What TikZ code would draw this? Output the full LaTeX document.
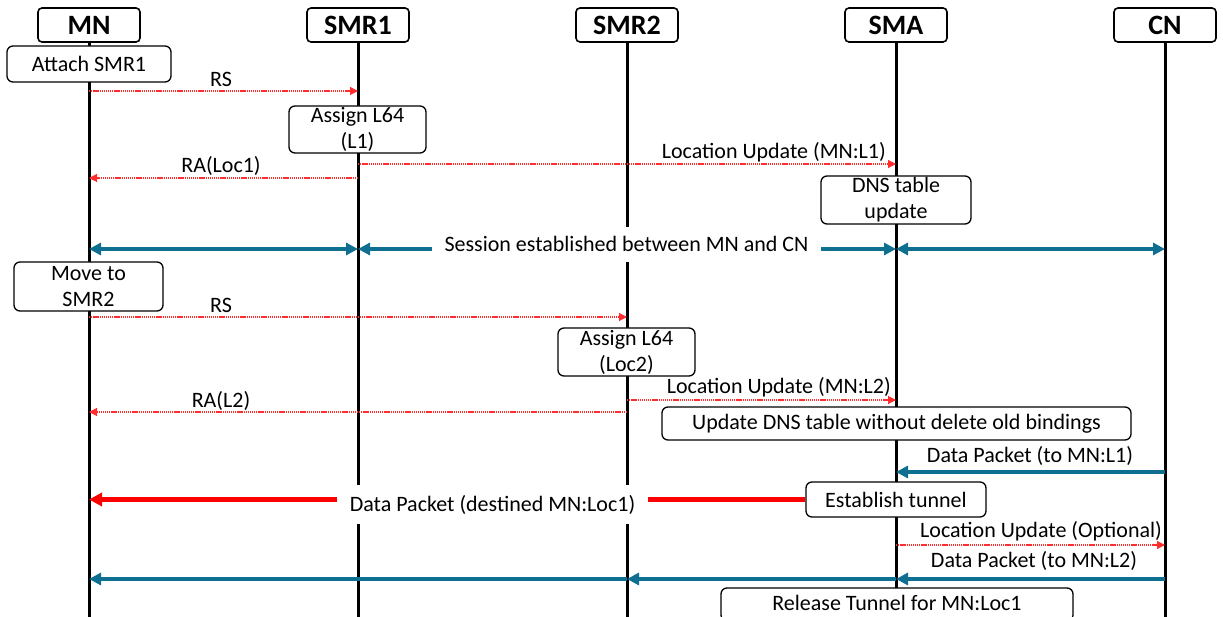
\documentclass[tikz,border=0pt]{standalone}
\usepackage{fontspec}
\setmainfont{Carlito}
\usetikzlibrary{arrows.meta}
\definecolor{flowblue}{RGB}{14,111,145}
\definecolor{sigred}{RGB}{255,45,45}
\begin{document}
\begin{tikzpicture}[x=1pt,y=-1pt,
  every node/.style={font=\fontsize{22}{26}\selectfont},
  actor/.style={draw, line width=1.6, rounded corners=4, fill=white,
    minimum width=102, minimum height=34, inner sep=0,
    font=\fontsize{28}{30}\selectfont\bfseries},
  stepbox/.style={draw, line width=1.3, rounded corners=6, fill=white,
    align=center, inner sep=0},
  lifeline/.style={line width=3},
  sig/.style={draw=sigred, line width=1.1, dash pattern=on 1.3pt off 0.8pt,
    -{Triangle[length=8pt,width=8pt]}},
  flow/.style={draw=flowblue, line width=4,
    -{Triangle[length=12pt,width=12pt]}},
  flowboth/.style={draw=flowblue, line width=4,
    {Triangle[length=12pt,width=12pt]}-{Triangle[length=12pt,width=12pt]}},
  tunnelflow/.style={draw=red, line width=4.5,
    -{Triangle[length=13pt,width=13pt]}},
  lbl/.style={inner sep=0, anchor=base},
  lblr/.style={inner sep=0, anchor=base east},
  cover/.style={fill=white, inner xsep=13, inner ysep=10, anchor=base}]

\clip (0,0) rectangle (1223,617);

% participants
\node[actor] (mn)   at (89,25)   {MN};
\node[actor] (smr1) at (358,25)  {SMR1};
\node[actor] (smr2) at (627,25)  {SMR2};
\node[actor] (sma)  at (896,25)  {SMA};
\node[actor] (cn)   at (1165,25) {CN};

\coordinate (bottom) at (0,630);
\foreach \p in {mn,smr1,smr2,sma,cn}
  \draw[lifeline] (\p.south) -- (\p.south |- bottom);

% rows of the exchange
\coordinate (r1) at (0,91);
\coordinate (r2) at (0,164);
\coordinate (r3) at (0,178);
\coordinate (r4) at (0,249);
\coordinate (r5) at (0,317);
\coordinate (r6) at (0,400);
\coordinate (r7) at (0,412);
\coordinate (r8) at (0,472);
\coordinate (r9) at (0,545);
\coordinate (r10) at (0,579);

% local actions
\node[stepbox, minimum width=164, minimum height=36] (attach) at (89,64) {Attach SMR1};
\node[stepbox, minimum width=137, minimum height=47] (assign1) at (357.5,129.5) {Assign L64\\(L1)};
\node[stepbox, minimum width=150, minimum height=48] (dns) at (896,200) {DNS table\\update};
\node[stepbox, minimum width=149, minimum height=49] (move) at (88.5,286.5) {Move to\\SMR2};
\node[stepbox, minimum width=137, minimum height=48] (assign2) at (626.5,352) {Assign L64\\(Loc2)};
\node[stepbox, minimum width=469, minimum height=33] (upd) at (896.5,423.5) {Update DNS table without delete old bindings};
\node[stepbox, minimum width=180, minimum height=35] (tun) at (896,499.5) {Establish tunnel};
\node[stepbox, minimum width=352, minimum height=33, text height=16, text depth=5] (rel) at (897,604.5) {Release Tunnel for MN:Loc1};

% attachment to SMR1
\draw[sig] (mn |- r1) -- (smr1 |- r1);
\node[lbl] at (221,87) {RS};
\draw[sig] (smr1 |- r2) -- (sma |- r2);
\node[lblr] at (886,159) {Location Update (MN:L1)};
\draw[sig] (smr1 |- r3) -- (mn |- r3);
\node[lbl] at (221,173) {RA(Loc1)};

% session
\draw[flowboth] (mn |- r4) -- (smr1 |- r4);
\draw[flowboth] (smr1 |- r4) -- (sma |- r4);
\draw[flowboth] (sma |- r4) -- (cn |- r4);
\node[cover] (sess) at (626.5,252) {Session established between MN and CN};

% handover to SMR2
\draw[sig] (mn |- r5) -- (smr2 |- r5);
\node[lbl] at (221,313) {RS};
\draw[sig] (smr2 |- r6) -- (sma |- r6);
\node[lblr] at (891,393) {Location Update (MN:L2)};
\draw[sig] (smr2 |- r7) -- (mn |- r7);
\node[lbl] at (221,407) {RA(L2)};

% data delivery
\draw[flow] (cn |- r8) -- (sma |- r8);
\node[lbl] at (1030,462) {Data Packet (to MN:L1)};
\draw[tunnelflow] (tun.west) -- (mn |- tun.west);
\node[cover] (dest) at (492.5,511) {Data Packet (destined MN:Loc1)};
\draw[sig] (sma |- r9) -- (cn |- r9);
\node[lbl] at (1041,537) {Location Update (Optional)};
\draw[flow] (cn |- r10) -- (sma |- r10);
\draw[flow] (sma |- r10) -- (smr2 |- r10);
\draw[flow] (smr2 |- r10) -- (mn |- r10);
\node[lbl] at (1034,567) {Data Packet (to MN:L2)};
\end{tikzpicture}
\end{document}
